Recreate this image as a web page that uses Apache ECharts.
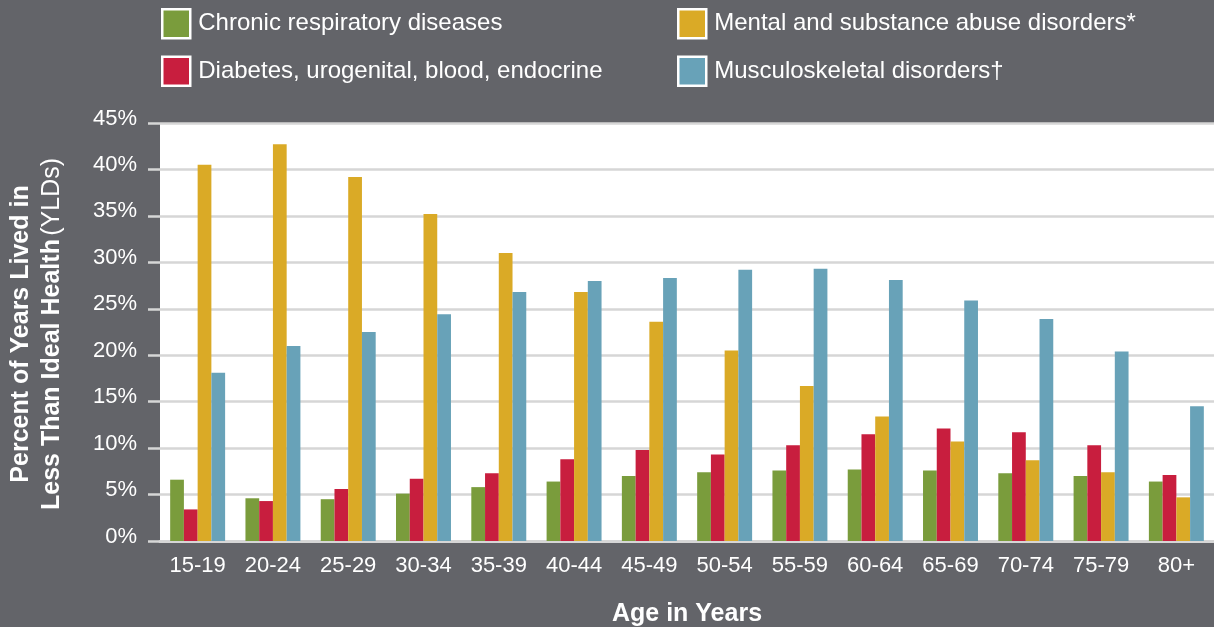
<!DOCTYPE html>
<html>
<head>
<meta charset="utf-8">
<script src="https://cdn.jsdelivr.net/npm/echarts@6/dist/echarts.min.js"></script>
<style>html,body{margin:0;padding:0;background:#636469;}#c{width:1214px;height:627px;}</style>
</head>
<body>
<div id="c"></div>
<script>
const categories = ['15-19','20-24','25-29','30-34','35-39','40-44','45-49','50-54','55-59','60-64','65-69','70-74','75-79','80+'];
const chronicRespiratory = [6.6, 4.6, 4.5, 5.1, 5.8, 6.4, 7.0, 7.4, 7.6, 7.7, 7.6, 7.3, 7.0, 6.4];
const diabetes = [3.4, 4.3, 5.6, 6.7, 7.3, 8.8, 9.8, 9.3, 10.3, 11.5, 12.1, 11.7, 10.3, 7.1];
const mental = [40.5, 42.7, 39.2, 35.2, 31.0, 26.8, 23.6, 20.5, 16.7, 13.4, 10.7, 8.7, 7.4, 4.7];
const musculoskeletal = [18.1, 21.0, 22.5, 24.4, 26.8, 28.0, 28.3, 29.2, 29.3, 28.1, 25.9, 23.9, 20.4, 14.5];
const seriesNames = ['Chronic respiratory diseases','Diabetes, urogenital, blood, endocrine','Mental and substance abuse disorders*','Musculoskeletal disorders\u2020'];
const colors = ['#7A9C3C','#C81E3E','#DAAA26','#68A2B8'];

const chart = echarts.init(document.getElementById('c'));
const font = '"Liberation Sans", Arial, Helvetica, sans-serif';
const legendBase = {
  orient: 'vertical', top: 3, itemWidth: 28, itemHeight: 29, itemGap: 16,
  icon: 'rect', selectedMode: false,
  textStyle: {color: '#ffffff', fontSize: 24, fontFamily: font, padding: [0,0,0,3]},
  itemStyle: {borderColor: '#ffffff', borderWidth: 2.5}
};
function mk(i, data){
  return {name: seriesNames[i], type: 'bar', data: data, barGap: '0%', barCategoryGap: '27%',
    itemStyle: {color: colors[i]}};
}
chart.setOption({
  backgroundColor: '#636469',
  animation: false,
  legend: [
    Object.assign({}, legendBase, {left: 156, data: [seriesNames[0], seriesNames[1]]}),
    Object.assign({}, legendBase, {left: 672, data: [seriesNames[2], seriesNames[3]]})
  ],
  grid: {left: 160, right: 0, top: 123, bottom: 86, show: true, backgroundColor: '#ffffff', borderWidth: 0,
    outerBoundsMode: 'none', containLabel: false},
  xAxis: {
    type: 'category', data: categories,
    name: 'Age in Years', nameLocation: 'middle', nameGap: 61,
    nameTextStyle: {color: '#ffffff', fontSize: 25, fontWeight: 'bold', fontFamily: font},
    axisLine: {lineStyle: {color: '#d6d6d6', width: 3}},
    axisTick: {show: false},
    axisLabel: {color: '#ffffff', fontSize: 22, fontFamily: font, margin: 14}
  },
  yAxis: {
    type: 'value', min: 0, max: 45, interval: 5,
    axisLine: {show: false},
    axisTick: {show: true, length: 12, lineStyle: {color: '#d6d6d6', width: 2.5}},
    splitLine: {lineStyle: {color: '#d6d6d6', width: 2.5}},
    axisLabel: {color: '#ffffff', fontSize: 22, fontFamily: font, margin: 23, formatter: '{value}%',
      verticalAlign: 'bottom', lineHeight: 9}
  },
  graphic: [{
    type: 'text', x: 37, y: 334, rotation: Math.PI / 2,
    style: {
      text: '{b|Percent of Years Lived in}\n{b|Less Than Ideal Health} {n|(YLDs)}',
      align: 'center', verticalAlign: 'middle', fill: '#ffffff',
      rich: {
        b: {fontSize: 25, fontWeight: 'bold', fontFamily: font, fill: '#ffffff', lineHeight: 31},
        n: {fontSize: 25, fontFamily: font, fill: '#ffffff', lineHeight: 31}
      }
    }
  }],
  series: [mk(0, chronicRespiratory), mk(1, diabetes), mk(2, mental), mk(3, musculoskeletal)]
});
</script>
</body>
</html>
